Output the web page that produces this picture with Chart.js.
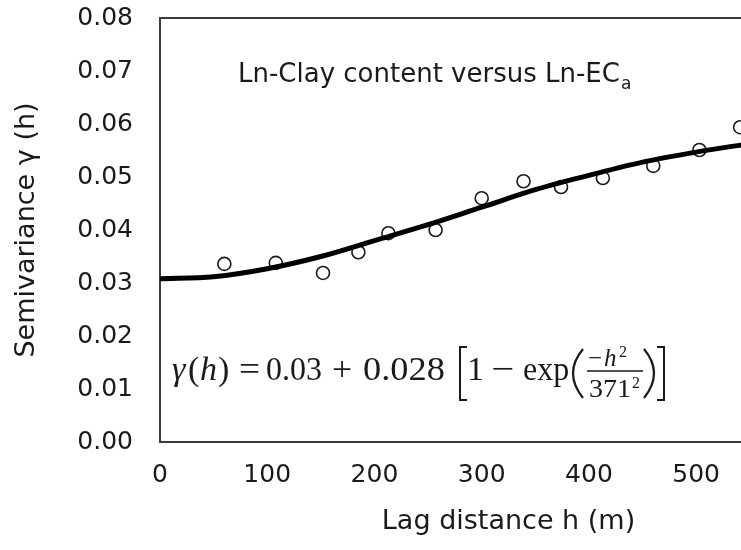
<!DOCTYPE html>
<html>
<head>
<meta charset="utf-8">
<title>Semivariogram</title>
<script src="https://cdn.jsdelivr.net/npm/chart.js@4.4.1/dist/chart.umd.min.js"></script>
<style>
  html, body { margin: 0; padding: 0; background: #fff; overflow: hidden; }
  #wrap { width: 880px; height: 550px; }
</style>
</head>
<body>
<div id="wrap"><canvas id="vario" width="880" height="550"></canvas></div>
<script>
// experimental semivariance at each lag
const lagDistance = [60, 108, 152, 185, 213, 257, 300, 339, 374, 413, 460, 503, 541];
const semivariance = [0.0336, 0.0338, 0.0319, 0.0358, 0.0394, 0.0400, 0.0460, 0.0492, 0.0481, 0.0498, 0.0521, 0.0551, 0.0594];

// fitted gaussian model, sampled along the lag axis
const modelLag = [0, 50, 100, 150, 200, 250, 300, 350, 400, 450, 500, 550];
const modelGamma = [0.0308, 0.0312, 0.0327, 0.0350, 0.0380, 0.0410, 0.0443, 0.0476, 0.0503, 0.0528, 0.0547, 0.0563];

const sans = "'DejaVu Sans', Arial, sans-serif";
const serif = "'Liberation Serif', 'Times New Roman', serif";
const ink = '#1a1a1a';
const frameColor = '#3a3a3a';

function put(ctx, text, x, y, font, sx = 1) {
  ctx.save();
  ctx.font = font;
  ctx.translate(x, y);
  ctx.scale(sx, 1);
  ctx.fillText(text, 0, 0);
  ctx.restore();
}

function stroke(ctx, pts, width) {
  ctx.beginPath();
  ctx.lineWidth = width;
  ctx.moveTo(pts[0][0], pts[0][1]);
  for (let i = 1; i < pts.length; i++) ctx.lineTo(pts[i][0], pts[i][1]);
  ctx.stroke();
}

const annotations = {
  id: 'annotations',
  afterDraw(chart) {
    const { ctx, chartArea } = chart;
    const L = chartArea.left, T = chartArea.top;
    ctx.save();

    // top edge of the frame
    ctx.strokeStyle = frameColor;
    stroke(ctx, [[L - 1, T], [chartArea.right, T]], 2);

    ctx.fillStyle = ink;
    ctx.strokeStyle = ink;
    ctx.textBaseline = 'alphabetic';
    ctx.textAlign = 'left';

    // panel caption
    const cap = 'Ln-Clay content versus Ln-EC';
    ctx.font = `26px ${sans}`;
    const capW = ctx.measureText(cap).width;
    put(ctx, cap, L + 78, T + 64, `26px ${sans}`);
    put(ctx, 'a', L + 78 + capW + 1, T + 71, `17px ${sans}`);

    // model equation
    const row = T + 362;
    const big = `34px ${serif}`;
    const bigIt = `italic 34px ${serif}`;
    put(ctx, 'γ', L + 12, row, bigIt);
    put(ctx, '(', L + 28, row, big);
    put(ctx, 'h', L + 40, row, bigIt);
    put(ctx, ')', L + 58, row, big);
    put(ctx, '=', L + 79, row, big, 1.1);
    put(ctx, '0.03', L + 106, row, big, 0.94);
    put(ctx, '+', L + 172, row, big, 1.05);
    put(ctx, '0.028', L + 203, row, big, 1.07);
    put(ctx, '1', L + 307, row, big);
    put(ctx, '\u2212', L + 331, row, big, 1.2);
    put(ctx, 'exp', L + 363, row, big, 0.94);

    // brackets and parentheses
    stroke(ctx, [[L + 307, T + 329], [L + 300, T + 329], [L + 300, T + 382], [L + 307, T + 382]], 2);
    stroke(ctx, [[L + 497, T + 329], [L + 504, T + 329], [L + 504, T + 382], [L + 497, T + 382]], 2);
    ctx.lineWidth = 2.2;
    ctx.beginPath();
    ctx.moveTo(L + 423, T + 331);
    ctx.quadraticCurveTo(L + 403, T + 355, L + 423, T + 380);
    ctx.stroke();
    ctx.beginPath();
    ctx.moveTo(L + 484, T + 331);
    ctx.quadraticCurveTo(L + 504, T + 355, L + 484, T + 380);
    ctx.stroke();

    // fraction -h^2 / 371^2
    put(ctx, '\u2212', L + 428, T + 348, `25px ${serif}`);
    put(ctx, 'h', L + 444, T + 348, `italic 25px ${serif}`);
    put(ctx, '2', L + 459, T + 339, `16px ${serif}`);
    stroke(ctx, [[L + 427, T + 353], [L + 483, T + 353]], 1.4);
    put(ctx, '371', L + 429, T + 379, `25px ${serif}`, 1.12);
    put(ctx, '2', L + 472, T + 370, `16px ${serif}`);

    ctx.restore();
  }
};

new Chart(document.getElementById('vario'), {
  type: 'scatter',
  data: {
    datasets: [
      {
        type: 'line',
        label: 'Model',
        data: modelLag.map((h, i) => ({ x: h, y: modelGamma[i] })),
        borderColor: '#000',
        borderWidth: 5,
        pointRadius: 0,
        fill: false,
        cubicInterpolationMode: 'monotone'
      },
      {
        label: 'Experimental',
        data: lagDistance.map((h, i) => ({ x: h, y: semivariance[i] })),
        pointStyle: 'circle',
        pointRadius: 6.5,
        borderWidth: 1.6,
        borderColor: '#1a1a1a',
        backgroundColor: '#fff'
      }
    ]
  },
  options: {
    responsive: false,
    animation: false,
    layout: { padding: { top: 18, right: 23, bottom: 0, left: 0 } },
    plugins: {
      legend: { display: false },
      tooltip: { enabled: false }
    },
    scales: {
      x: {
        type: 'linear',
        min: 0,
        max: 650,
        grid: { display: false, drawTicks: false },
        border: { display: true, color: frameColor, width: 2 },
        ticks: {
          stepSize: 100,
          includeBounds: false,
          padding: 18,
          color: ink,
          font: { family: sans, size: 25 }
        },
        title: {
          display: true,
          text: 'Lag distance h (m)',
          color: ink,
          font: { family: sans, size: 27 },
          padding: { top: 0, bottom: 12 }
        },
        afterFit(scale) { scale.height = 108; }
      },
      y: {
        min: 0,
        max: 0.08,
        grid: { display: false, drawTicks: false },
        border: { display: true, color: frameColor, width: 2 },
        ticks: {
          stepSize: 0.01,
          padding: 27,
          color: ink,
          font: { family: sans, size: 25 },
          callback: v => v.toFixed(2)
        },
        title: {
          display: true,
          text: 'Semivariance γ (h)',
          color: ink,
          font: { family: sans, size: 27 },
          padding: { top: 11, bottom: 0 }
        },
        afterFit(scale) {
          // fixed gutter; the tick padding should not push the plot area down
          scale.width = 160;
          scale.paddingTop = 0;
          scale.paddingBottom = 0;
        }
      }
    }
  },
  plugins: [annotations]
});
</script>
</body>
</html>
